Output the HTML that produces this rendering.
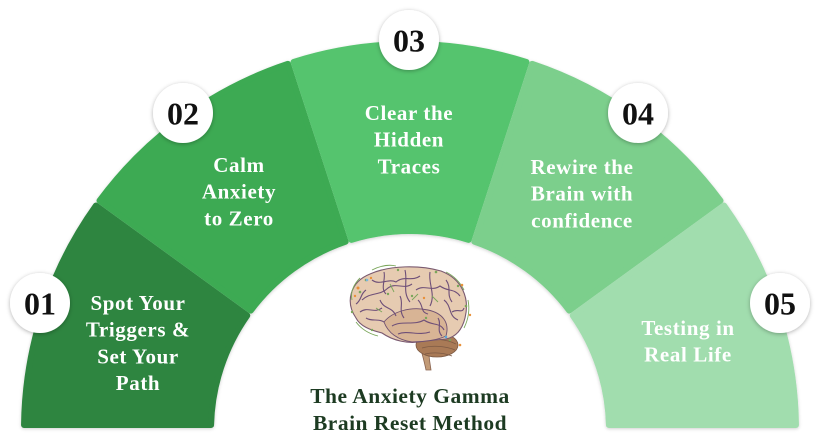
<!DOCTYPE html>
<html><head><meta charset="utf-8">
<style>
html,body{margin:0;padding:0;background:#fff;}
body{width:820px;height:438px;overflow:hidden;}
svg{display:block;}
.t{font-family:"Liberation Serif","DejaVu Serif",serif;font-weight:bold;font-size:21px;fill:#fff;text-anchor:middle;letter-spacing:0.6px;}
.n{font-family:"Liberation Serif","DejaVu Serif",serif;font-weight:bold;font-size:32px;fill:#111;text-anchor:middle;}
.h{font-family:"Liberation Serif","DejaVu Serif",serif;font-weight:bold;font-size:21.5px;fill:#1d3b22;text-anchor:middle;letter-spacing:0.5px;}
</style></head>
<body>
<svg width="820" height="438" viewBox="0 0 820 438" xmlns="http://www.w3.org/2000/svg">
<defs>
<filter id="sh" x="-20%" y="-20%" width="140%" height="140%">
<feDropShadow dx="0" dy="1" stdDeviation="1.5" flood-color="#000" flood-opacity="0.18"/>
</filter>
<filter id="cs" x="-30%" y="-30%" width="160%" height="160%">
<feDropShadow dx="0" dy="1" stdDeviation="2" flood-color="#000" flood-opacity="0.3"/>
</filter>
</defs>

<g filter="url(#sh)" stroke-width="6" stroke-linejoin="round">
<path d="M24.03,425 A386,386 0 0 1 95.97,205.54 L247.26,315.47 A199,199 0 0 0 211.06,425 Z" fill="#2e8540" stroke="#2e8540"/>
<path d="M99.49,200.70 A386,386 0 0 1 287.87,63.83 L345.66,241.69 A199,199 0 0 0 250.79,310.61 Z" fill="#3caa53" stroke="#3caa53"/>
<path d="M293.57,61.98 A386,386 0 0 1 526.43,61.98 L468.64,239.83 A199,199 0 0 0 351.36,239.83 Z" fill="#55c46e" stroke="#55c46e"/>
<path d="M532.13,63.83 A386,386 0 0 1 720.51,200.70 L569.21,310.61 A199,199 0 0 0 474.34,241.69 Z" fill="#7bcf8c" stroke="#7bcf8c"/>
<path d="M724.03,205.54 A386,386 0 0 1 795.97,425 L608.94,425 A199,199 0 0 0 572.74,315.47 Z" fill="#a1ddae" stroke="#a1ddae"/>
</g>

<!-- segment labels -->
<text class="t" x="138" y="310">Spot Your</text>
<text class="t" x="138" y="336.7">Triggers &amp;</text>
<text class="t" x="138" y="363.3">Set Your</text>
<text class="t" x="138" y="390">Path</text>

<text class="t" x="239" y="172">Calm</text>
<text class="t" x="239" y="198.7">Anxiety</text>
<text class="t" x="239" y="225.4">to Zero</text>

<text class="t" x="409" y="120">Clear the</text>
<text class="t" x="409" y="146.7">Hidden</text>
<text class="t" x="409" y="173.4">Traces</text>

<text class="t" x="582" y="174">Rewire the</text>
<text class="t" x="582" y="200.7">Brain with</text>
<text class="t" x="582" y="227.4">confidence</text>

<text class="t" x="688" y="335">Testing in</text>
<text class="t" x="688" y="361.7">Real Life</text>

<!-- number circles -->
<g filter="url(#cs)" fill="#fff">
<circle cx="40" cy="303" r="30"/>
<circle cx="183" cy="113" r="30"/>
<circle cx="409" cy="40" r="30"/>
<circle cx="638" cy="113" r="30"/>
<circle cx="780" cy="303" r="30"/>
</g>
<text class="n" x="40" y="314.5">01</text>
<text class="n" x="183" y="124.5">02</text>
<text class="n" x="409" y="51.5">03</text>
<text class="n" x="638" y="124.5">04</text>
<text class="n" x="780" y="314.5">05</text>

<!-- brain -->
<g>
<path d="M418,338 C421,350 424,360 426,370 L431,370 C429,358 428,348 428,338 Z" fill="#c29a76" stroke="#8a6450" stroke-width="0.8"/>
<ellipse cx="437" cy="345" rx="21" ry="12" fill="#a97a56" stroke="#7d5a44" stroke-width="0.8"/>
<path d="M424,341 C432,338 446,339 456,344 M422,348 C432,345 446,346 455,350 M425,354 C434,352 444,353 452,356" stroke="#7d5a44" stroke-width="0.7" fill="none"/>
<path d="M356,318 C345,302 350,282 370,274 C390,265 420,265 441,271 C462,279 470,298 465,318 C462,330 456,337 446,339 L424,341 C408,345 392,340 382,333 C370,330 360,326 356,318 Z" fill="#e6cbb1" stroke="#7a5a70" stroke-width="1.1"/>
<path d="M384,322 C392,312 410,306 428,310 C442,313 450,322 446,336 C438,340 424,342 412,342 C398,340 388,333 384,322 Z" fill="#d8b495" stroke="#6f5070" stroke-width="0.9"/>
<g stroke="#6e4f78" stroke-width="1.1" fill="none">
<path d="M362,300 C370,292 380,296 388,288 C396,282 404,290 412,284"/>
<path d="M372,280 C380,286 388,278 396,282 C404,275 412,282 420,276"/>
<path d="M416,290 C424,284 432,292 440,286 C448,292 454,288 460,296"/>
<path d="M405,270 C408,282 402,292 410,302"/>
<path d="M430,272 C428,284 436,294 430,306"/>
<path d="M360,312 C368,306 374,314 382,308"/>
<path d="M444,300 C452,306 448,316 458,320"/>
<path d="M392,326 C402,320 414,326 424,320 C432,326 440,322 444,330"/>
<path d="M398,334 C408,330 418,336 430,332"/>
<path d="M446,280 C452,288 446,294 452,302"/>
<path d="M380,300 C384,310 392,306 396,316"/>
<path d="M356,304 C362,300 360,294 366,290"/>
<path d="M384,272 C386,280 380,288 386,294"/>
<path d="M418,300 C424,306 420,312 428,314"/>
<path d="M452,312 C458,308 462,314 464,308"/>
<path d="M366,318 C372,322 378,318 384,322"/>
<path d="M400,296 C404,304 398,310 404,318"/>
<path d="M438,318 C442,324 436,330 442,336"/>
</g>
<g stroke="#7aa65a" stroke-width="0.9" fill="none">
<path d="M352,300 C350,292 354,284 360,278"/>
<path d="M372,270 C380,266 388,264 396,266"/>
<path d="M446,272 C454,276 460,282 464,290"/>
<path d="M468,300 C470,310 468,320 464,328"/>
<path d="M356,322 C362,330 370,334 378,336"/>
<path d="M390,284 L394,292 M412,300 L418,294 M432,296 L438,302 M376,308 L382,312"/>
</g>
<g fill="#7aa65a">
<circle cx="360" cy="292" r="1.3"/><circle cx="366" cy="280" r="1.3"/><circle cx="398" cy="270" r="1.2"/>
<circle cx="436" cy="272" r="1.3"/><circle cx="458" cy="286" r="1.2"/><circle cx="466" cy="306" r="1.3"/>
<circle cx="352" cy="312" r="1.2"/><circle cx="372" cy="330" r="1.2"/><circle cx="412" cy="296" r="1.2"/>
<circle cx="426" cy="318" r="1.2"/><circle cx="450" cy="340" r="1.2"/><circle cx="388" cy="294" r="1.2"/>
</g>
<g fill="#e8903a">
<circle cx="358" cy="288" r="1.5"/><circle cx="355" cy="296" r="1.2"/><circle cx="462" cy="285" r="1.3"/>
<circle cx="470" cy="315" r="1.2"/><circle cx="460" cy="345" r="1.3"/><circle cx="424" cy="298" r="1.2"/>
<circle cx="371" cy="278" r="1.2"/>
</g>
<circle cx="367" cy="280" r="1.3" fill="#7ab6e0"/>
<circle cx="446" cy="337" r="1.3" fill="#5aa8d8"/>
</g>

<!-- title -->
<text class="h" x="410" y="403">The Anxiety Gamma</text>
<text class="h" x="410" y="430">Brain Reset Method</text>
</svg>
</body></html>
